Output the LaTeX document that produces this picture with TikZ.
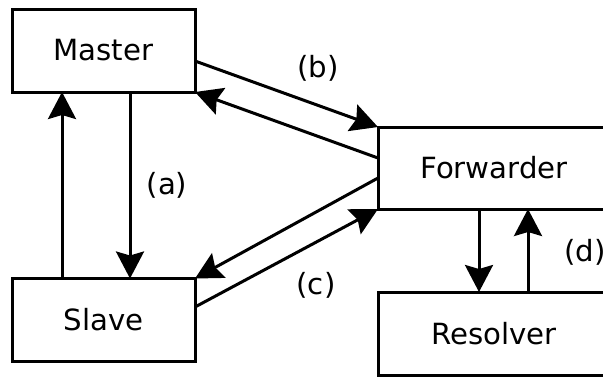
\documentclass[tikz,border=0pt]{standalone}
\usepackage{fontspec}
\setmainfont{DejaVu Sans}
\usetikzlibrary{arrows.meta}

\begin{document}
\begin{tikzpicture}[x=0.5pt, y=-0.5pt, line width=1.5pt,
  box/.style={draw, rectangle, minimum width=91.5pt, minimum height=41.5pt, inner sep=0pt, outer sep=0pt, font=\fontsize{14.6}{17}\selectfont},
  flow/.style={-{Stealth[length=13.5pt,width=14pt,inset=2pt]}},
  lbl/.style={font=\fontsize{14.6}{17}\selectfont}]
\useasboundingbox (0,0) rectangle (603,376);
\node[box] (master) at (103.5,50.5) {Master};
\node[box] (slave) at (103.5,320) {Slave};
\node[box, minimum width=116pt, minimum height=41pt] (fwd) at (494,168) {Forwarder};
\node[box, minimum width=116pt] (res) at (494,333.5) {Resolver};
\node[lbl] (la) at (167,185) {(a)};
\node[lbl] (lb) at (318,68) {(b)};
\node[lbl] (lc) at (316,285) {(c)};
\node[lbl] (ld) at (585,252) {(d)};
\draw[flow] ([xshift=13.25pt]master.south) -- ([xshift=13.25pt]slave.north);
\draw[flow] ([xshift=-20.75pt]slave.north) -- ([xshift=-20.75pt]master.south);
\draw[flow] ([yshift=-5.25pt]master.east) -- (fwd.north west);
\draw[flow] ([yshift=5pt]fwd.west) -- (master.south east);
\draw[flow] ([yshift=-5pt]fwd.west) -- (slave.north east);
\draw[flow] ([yshift=6.5pt]slave.east) -- (fwd.south west);
\draw[flow] ([xshift=-7.5pt]fwd.south) -- ([xshift=-7.5pt]res.north);
\draw[flow] ([xshift=17pt]res.north) -- ([xshift=17pt]fwd.south);
\end{tikzpicture}
\end{document}
